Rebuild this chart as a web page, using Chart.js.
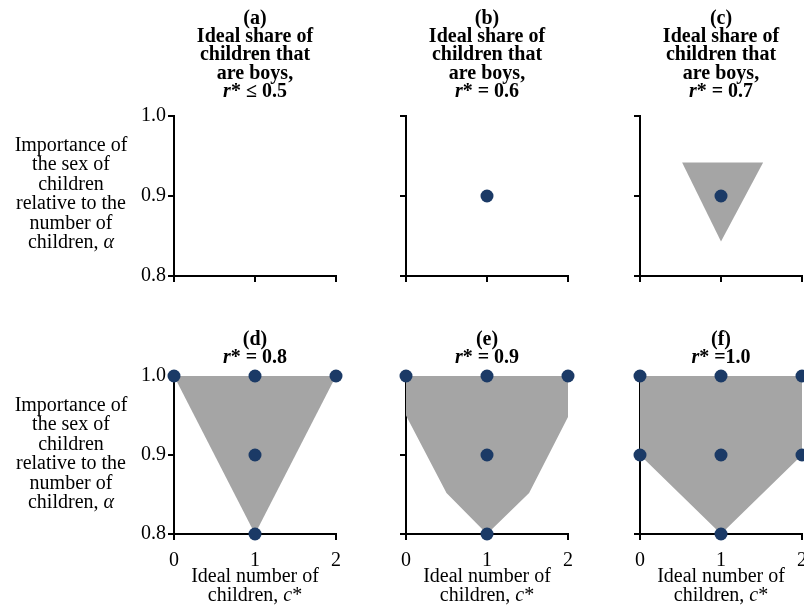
<!DOCTYPE html>
<html>
<head>
<meta charset="utf-8">
<script src="https://cdn.jsdelivr.net/npm/chart.js@4/dist/chart.umd.min.js"></script>
<style>
  html, body { margin: 0; padding: 0; background: #fff; }
  body { width: 804px; height: 607px; overflow: hidden; position: relative;
         font-family: 'Liberation Serif', 'DejaVu Serif', serif; color: #000; }
  canvas { position: absolute; }
  .ttl { position: absolute; width: 220px; text-align: center; font-weight: bold;
         font-size: 20px; line-height: 18.2px; }
  .ylab { position: absolute; left: 0; width: 142px; text-align: center;
          font-size: 20px; line-height: 19.4px; }
  .xlab { position: absolute; width: 200px; text-align: center;
          font-size: 20px; line-height: 18.5px; }
  i { font-style: italic; }
</style>
</head>
<body>
<script>
// axis values
const cTicks = [0, 1, 2];
const alphaTicks = [0.8, 0.9, 1.0];

// panel titles
const panelLetters = ['(a)', '(b)', '(c)', '(d)', '(e)', '(f)'];
const rStarText = ['≤ 0.5', '= 0.6', '= 0.7', '= 0.8', '= 0.9', '=1.0'];

// equilibrium points (c*, alpha) per panel
const dotsC = [[], [1], [1], [0, 1, 2, 1, 1], [0, 1, 2, 1, 1], [0, 1, 2, 0, 1, 2, 1]];
const dotsAlpha = [[], [0.9], [0.9], [1, 1, 1, 0.9, 0.8], [1, 1, 1, 0.9, 0.8], [1, 1, 1, 0.9, 0.9, 0.9, 0.8]];

// shaded regions (polygon vertices) per panel
const regionC = [[], [], [0.52, 1.52, 1], [0, 2, 1], [0, 2, 2, 1.52, 1, 0.5, 0], [0, 2, 2, 1, 0]];
const regionAlpha = [[], [], [0.942, 0.942, 0.843], [1, 1, 0.8], [1, 1, 0.948, 0.852, 0.8, 0.852, 0.95], [1, 1, 0.9, 0.8, 0.9]];

const colAxisX = [174, 406, 640];
const rowTop = [116, 376];
const rowH = [160, 158];
const plotW = 162;
const padL = 60, padT = 20, padR = 30, padB = 36;
const serif = "'Liberation Serif', 'DejaVu Serif', serif";

function addDiv(cls, html, left, top) {
  const d = document.createElement('div');
  d.className = cls;
  d.innerHTML = html;
  d.style.left = left + 'px';
  d.style.top = top + 'px';
  document.body.appendChild(d);
}

for (let p = 0; p < 6; p++) {
  const row = Math.floor(p / 3), col = p % 3;
  const ax = colAxisX[col], top = rowTop[row], h = rowH[row];
  const cv = document.createElement('canvas');
  const W = padL + plotW + padR, H = padT + h + padB;
  cv.width = W; cv.height = H;
  cv.style.left = (ax - padL) + 'px';
  cv.style.top = (top - padT) + 'px';
  cv.style.width = W + 'px'; cv.style.height = H + 'px';
  document.body.appendChild(cv);

  const dots = dotsC[p].map((c, i) => ({ x: c, y: dotsAlpha[p][i] }));
  const region = regionC[p].map((c, i) => ({ x: c, y: regionAlpha[p][i] }));
  if (region.length) region.push({ ...region[0] });

  new Chart(cv, {
    type: 'scatter',
    data: {
      datasets: [{
        data: dots,
        pointRadius: 6.5,
        pointBackgroundColor: '#1b3a66',
        pointBorderWidth: 0,
        clip: false,
        order: 1
      }, {
        type: 'line',
        data: region,
        showLine: true,
        fill: 'shape',
        backgroundColor: '#a5a5a5',
        borderColor: 'rgba(0,0,0,0)',
        borderWidth: 0,
        pointRadius: 0,
        tension: 0,
        clip: false,
        order: 2
      }]
    },
    options: {
      responsive: false,
      animation: false,
      events: [],
      layout: { padding: { left: 0, top: padT, right: padR, bottom: 0 } },
      plugins: { legend: { display: false }, tooltip: { enabled: false } },
      scales: {
        x: {
          type: 'linear', min: 0, max: 2,
          afterBuildTicks: s => { s.ticks = cTicks.map(v => ({ value: v })); },
          afterFit: s => { s.height = padB; },
          border: { display: true, color: '#000', width: 2 },
          grid: { drawOnChartArea: false, drawTicks: true, tickLength: 6, color: '#000', lineWidth: 2 },
          ticks: { display: row === 1, color: '#000', padding: 9, maxRotation: 0,
                   font: { family: serif, size: 20 }, callback: v => String(v) }
        },
        y: {
          type: 'linear', min: 0.8, max: 1.0,
          afterBuildTicks: s => { s.ticks = alphaTicks.map(v => ({ value: v })); },
          afterFit: s => { s.width = padL; },
          border: { display: true, color: '#000', width: 2 },
          grid: { drawOnChartArea: false, drawTicks: true, tickLength: 6, color: '#000', lineWidth: 2 },
          ticks: { display: col === 0, color: '#000', padding: 2,
                   font: { family: serif, size: 20 }, callback: v => v.toFixed(1) }
        }
      }
    }
  });

  const cx = ax + plotW / 2;
  if (row === 0) {
    addDiv('ttl', panelLetters[p] + '<br>Ideal share of<br>children that<br>are boys,<br><i>r</i>* ' + rStarText[p], cx - 110, 8);
  } else {
    addDiv('ttl', panelLetters[p] + '<br><i>r</i>* ' + rStarText[p], cx - 110, 329);
    addDiv('xlab', 'Ideal number of<br>children, <i>c</i>*', cx - 100, 566);
  }
}

addDiv('ylab', 'Importance of<br>the sex of<br>children<br>relative to the<br>number of<br>children, <i>α</i>', 0, 135);
addDiv('ylab', 'Importance of<br>the sex of<br>children<br>relative to the<br>number of<br>children, <i>α</i>', 0, 395);
</script>
</body>
</html>
